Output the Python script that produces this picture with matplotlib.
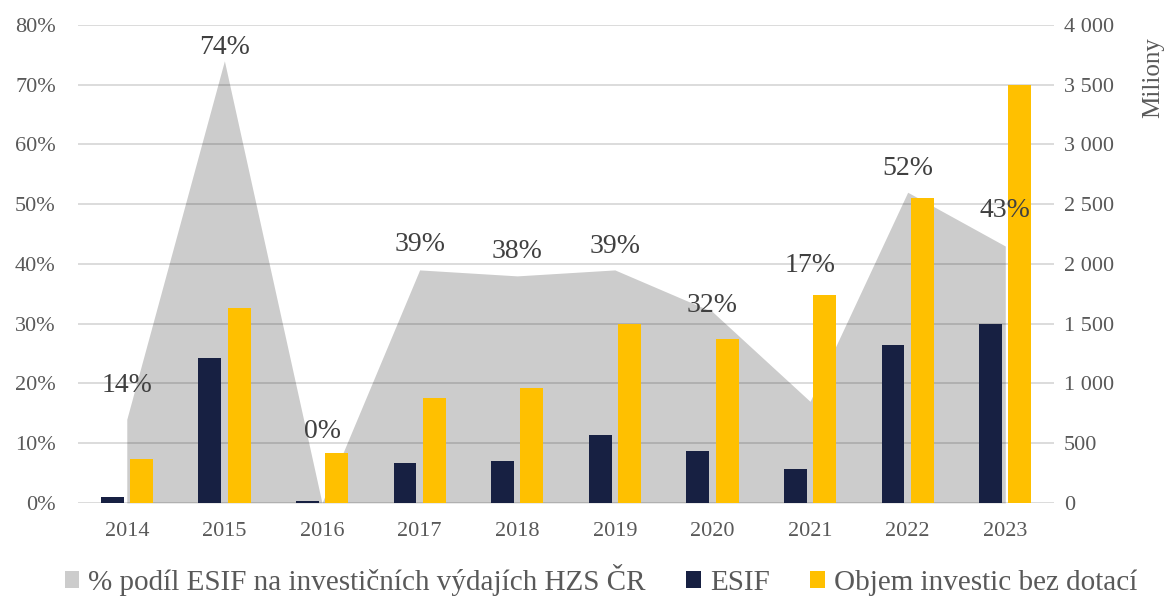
import matplotlib.pyplot as plt
import numpy as np
from matplotlib.patches import Patch
from matplotlib.ticker import FuncFormatter

plt.rcParams['font.family'] = ['Liberation Serif', 'DejaVu Serif']

# data
roky = ['2014', '2015', '2016', '2017', '2018', '2019', '2020', '2021', '2022', '2023']
podil_esif = [14, 74, 0, 39, 38, 39, 32, 17, 52, 43]          # % (levá osa)
esif = [50, 1215, 15, 335, 352, 570, 432, 282, 1322, 1500]     # mil. Kč (pravá osa)
objem = [369, 1635, 419, 875, 960, 1500, 1373, 1741, 2548, 3500]

# výška popisků v % (v originále posunuté ručně)
popisky_y = [19.7, 76.2, 11.9, 43.2, 42, 43, 33.1, 39.8, 56, 48.9]

seda_txt = '#595959'
navy = '#172042'
zluta = '#FFC000'

fig = plt.figure(figsize=(11.69, 5.98), dpi=100)
ax = fig.add_axes([0.0667, 0.159, 0.835, 0.7993])
x = np.arange(len(roky))

# plocha - podíl ESIF
ax.fill_between(x, 0, podil_esif, color=(0, 0, 0, 0.2), linewidth=0, zorder=1)
ax.set_ylim(0, 80)
ax.set_xlim(-0.5, len(roky) - 0.5)
ax.set_yticks(range(0, 81, 10))
ax.yaxis.set_major_formatter(FuncFormatter(lambda v, p: f'{int(v)}%'))
ax.grid(axis='y', color='#d9d9d9', linewidth=1.3)
ax.set_axisbelow(True)
ax.set_xticks(x)
ax.set_xticklabels(roky)
ax.tick_params(axis='both', length=0, labelsize=16, labelcolor=seda_txt)
ax.tick_params(axis='y', pad=16)
ax.tick_params(axis='x', pad=14)

# sloupce na pravé ose
ax2 = ax.twinx()
sirka = 0.235
ax2.bar(x - 0.15, esif, width=sirka, color=navy, zorder=2)
ax2.bar(x + 0.15, objem, width=sirka, color=zluta, zorder=2)
ax2.set_ylim(0, 4000)
ax2.set_yticks(range(0, 4001, 500))
ax2.yaxis.set_major_formatter(FuncFormatter(lambda v, p: f'{int(v):,}'.replace(',', ' ')))
ax2.tick_params(axis='y', length=0, labelsize=16, labelcolor=seda_txt, pad=7)
ax2.set_ylabel('Miliony', fontsize=18, color=seda_txt)
ax2.yaxis.set_label_coords(1.09, 0.89)

for a in (ax, ax2):
    for s in a.spines.values():
        s.set_visible(False)

# popisky procent
for i, (v, yy) in enumerate(zip(podil_esif, popisky_y)):
    ax2.text(i, yy, f'{v}%', transform=ax.transData, ha='center', va='center',
             fontsize=20, color='#404040', zorder=5)

handles = [Patch(facecolor='#cccccc'), Patch(facecolor=navy), Patch(facecolor=zluta)]
labels = ['% podíl ESIF na investičních výdajích HZS ČR', 'ESIF', 'Objem investic bez dotací']
leg = fig.legend(handles, labels, loc='center', bbox_to_anchor=(0.514, 0.03), ncol=3,
                 frameon=False, fontsize=21, handlelength=0.5, handleheight=0.5,
                 handletextpad=0.3, columnspacing=1.4)
for t in leg.get_texts():
    t.set_color(seda_txt)

fig.savefig('out.png', dpi=100)
